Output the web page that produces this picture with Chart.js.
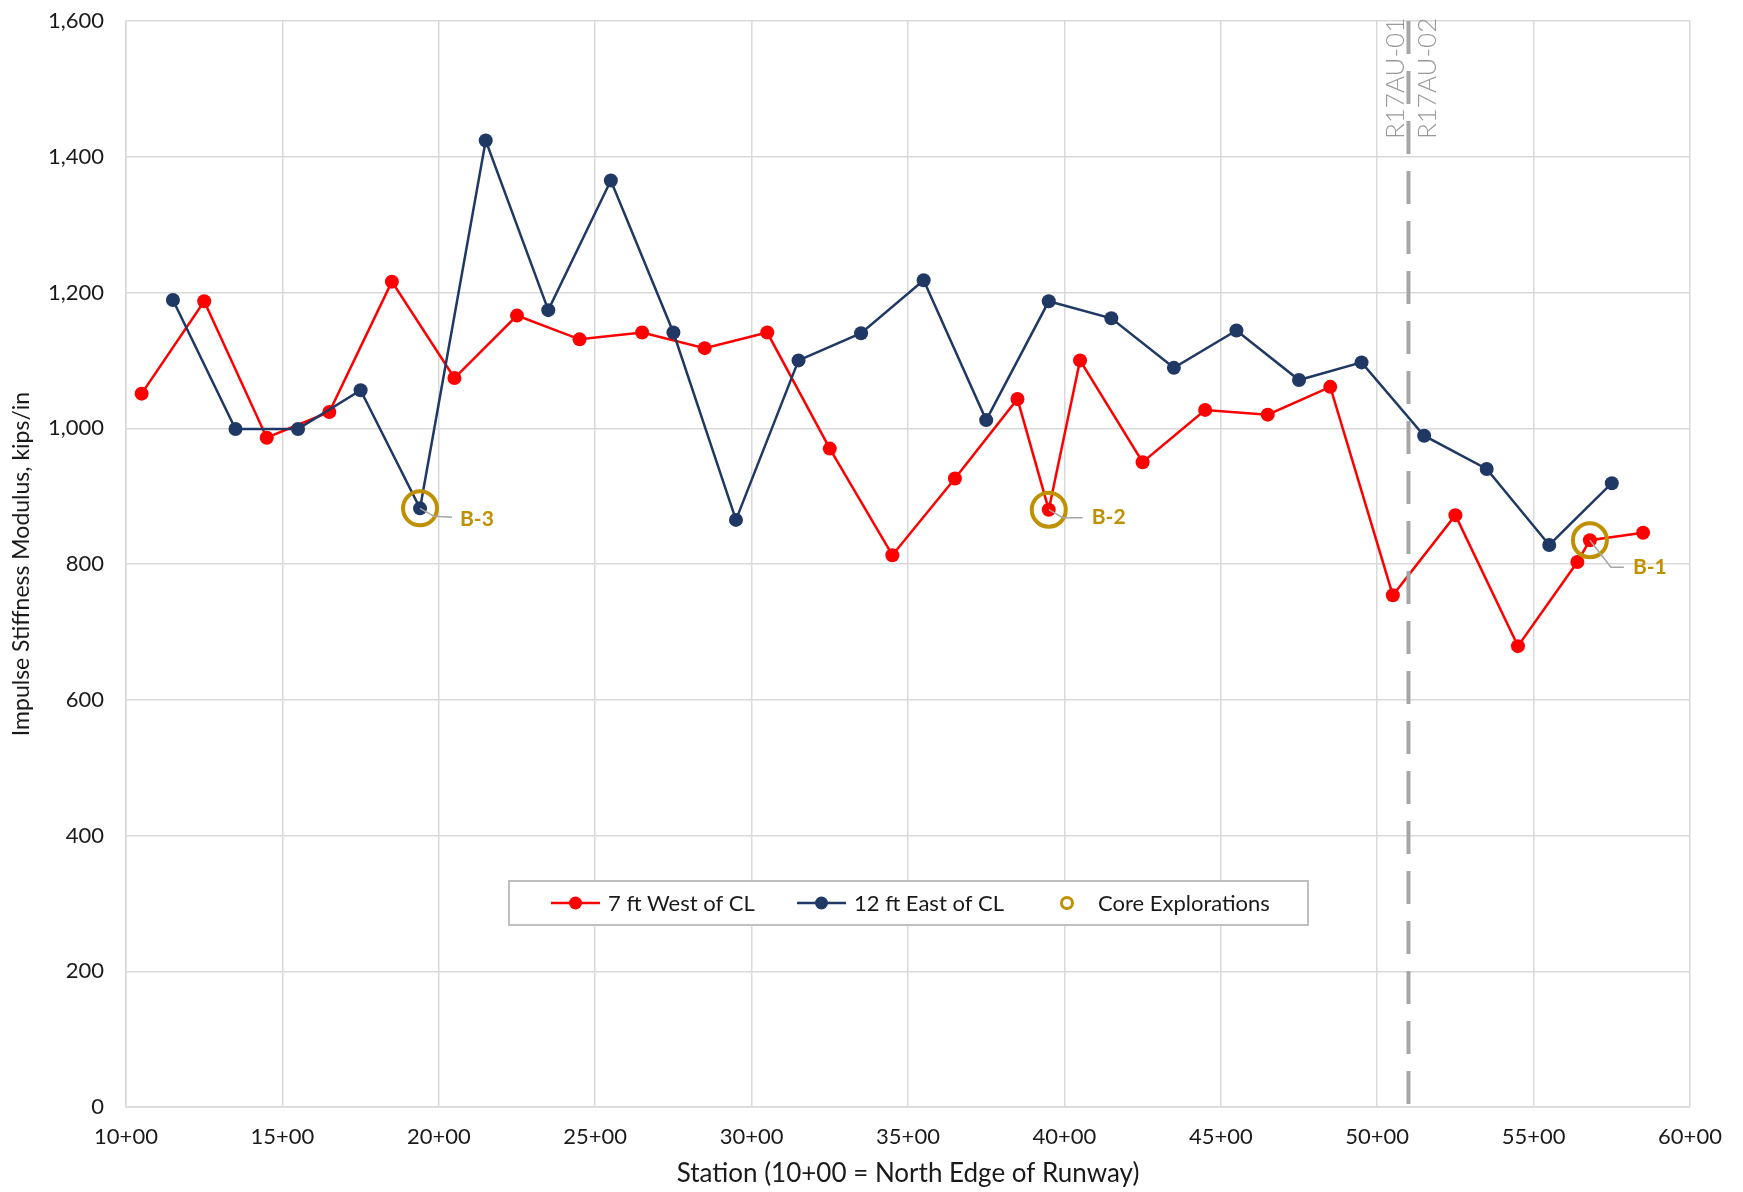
<!DOCTYPE html>
<html>
<head>
<meta charset="utf-8">
<script src="https://cdn.jsdelivr.net/npm/chart.js@4.4.1/dist/chart.umd.min.js"></script>
<style>
  html, body { margin: 0; padding: 0; background: #fff; }
  #wrap { width: 1743px; height: 1192px; }
</style>
</head>
<body>
<div id="wrap"><canvas id="chart" width="1743" height="1192"></canvas></div>
<script>
const FONT = "Lato, 'Open Sans', sans-serif";

// stations in feet (1000 = 10+00), modulus in kips/in
const westStations = [1050, 1250, 1450, 1650, 1850, 2050, 2250, 2450, 2650, 2850, 3050, 3250, 3450, 3650, 3850, 3950, 4050, 4250, 4450, 4650, 4850, 5050, 5250, 5450, 5640, 5680, 5850];
const westValues = [1051, 1187, 986, 1024, 1216, 1074, 1166, 1131, 1141, 1118, 1141, 970, 813, 926, 1043, 880, 1100, 950, 1027, 1020, 1061, 754, 872, 679, 803, 835, 846];

const eastStations = [1150, 1350, 1550, 1750, 1940, 2150, 2350, 2550, 2750, 2950, 3150, 3350, 3550, 3750, 3950, 4150, 4350, 4550, 4750, 4950, 5150, 5350, 5550, 5750];
const eastValues = [1189, 999, 999, 1056, 882, 1424, 1174, 1365, 1141, 865, 1100, 1140, 1218, 1012, 1187, 1162, 1089, 1144, 1071, 1097, 989, 940, 828, 919];

const coreStations = [1940, 3950, 5680];
const coreValues = [882, 880, 835];
const coreLabels = ["B-3", "B-2", "B-1"];

const dividerStation = 5100;
const dividerLabels = ["R17AU-01", "R17AU-02"];

const xTicks = [1000, 1500, 2000, 2500, 3000, 3500, 4000, 4500, 5000, 5500, 6000];
const xTickLabels = ["10+00", "15+00", "20+00", "25+00", "30+00", "35+00", "40+00", "45+00", "50+00", "55+00", "60+00"];
const yTicks = [0, 200, 400, 600, 800, 1000, 1200, 1400, 1600];
const yTickLabels = ["0", "200", "400", "600", "800", "1,000", "1,200", "1,400", "1,600"];

const RED = "#FF0000";
const NAVY = "#1F3864";
const GOLD = "#BF9000";
const GRID = "#D9D9D9";

// leader line bends and label offsets (px) for each core label
const coreLeaders = [
  [[14, 8], [32, 9], [40, 11]],
  [[14, 8], [34, 8], [43, 8]],
  [[21, 27], [34, 27], [43, 27]]
];

const toPoints = (xs, ys) => xs.map((x, i) => ({ x: x, y: ys[i] }));

const overlay = {
  id: "overlay",
  afterDatasetsDraw(chart) {
    const { ctx, chartArea, scales } = chart;
    const x = scales.x, y = scales.y;

    // section divider
    const dx = x.getPixelForValue(dividerStation);
    ctx.save();
    ctx.strokeStyle = "#A6A6A6";
    ctx.lineWidth = 4;
    ctx.setLineDash([33, 17]);
    ctx.beginPath();
    ctx.moveTo(dx, chartArea.top);
    ctx.lineTo(dx, chartArea.bottom);
    ctx.stroke();
    ctx.restore();

    ctx.save();
    ctx.fillStyle = "#999999";
    ctx.font = "300 26px " + FONT;
    ctx.textAlign = "left";
    ctx.textBaseline = "alphabetic";
    [[dx - 4, dividerLabels[0]], [dx + 28, dividerLabels[1]]].forEach(([px, txt]) => {
      ctx.save();
      ctx.translate(px, 139);
      ctx.rotate(-Math.PI / 2);
      ctx.fillText(txt, 0, 0);
      ctx.restore();
    });
    ctx.restore();

    // core labels
    ctx.save();
    coreStations.forEach((s, i) => {
      const px = x.getPixelForValue(s);
      const py = y.getPixelForValue(coreValues[i]);
      const l = coreLeaders[i];
      ctx.strokeStyle = "#A6A6A6";
      ctx.lineWidth = 1.5;
      ctx.beginPath();
      ctx.moveTo(px, py);
      ctx.lineTo(px + l[0][0], py + l[0][1]);
      ctx.lineTo(px + l[1][0], py + l[1][1]);
      ctx.stroke();
      ctx.fillStyle = GOLD;
      ctx.font = "bold 21px " + FONT;
      ctx.textAlign = "left";
      ctx.textBaseline = "middle";
      ctx.fillText(coreLabels[i], px + l[2][0], py + l[2][1]);
    });
    ctx.restore();
  },
  afterDraw(chart) {
    const ctx = chart.ctx;
    const bx = 509, by = 881, bw = 799, bh = 44;
    const cy = by + bh / 2;
    ctx.save();
    ctx.fillStyle = "#fff";
    ctx.fillRect(bx, by, bw, bh);
    ctx.strokeStyle = "#BFBFBF";
    ctx.lineWidth = 2;
    ctx.strokeRect(bx, by, bw, bh);

    ctx.font = "22px " + FONT;
    ctx.fillStyle = "#1a1a1a";
    ctx.textAlign = "left";
    ctx.textBaseline = "middle";

    const lineEntry = (x0, color, text) => {
      ctx.strokeStyle = color;
      ctx.lineWidth = 2.5;
      ctx.beginPath();
      ctx.moveTo(bx + x0, cy);
      ctx.lineTo(bx + x0 + 49, cy);
      ctx.stroke();
      ctx.fillStyle = color;
      ctx.beginPath();
      ctx.arc(bx + x0 + 24.5, cy, 6.5, 0, Math.PI * 2);
      ctx.fill();
      ctx.fillStyle = "#1a1a1a";
      ctx.fillText(text, bx + x0 + 57, cy + 1);
    };
    lineEntry(42, RED, chart.data.datasets[0].label);
    lineEntry(288, NAVY, chart.data.datasets[1].label);

    ctx.strokeStyle = GOLD;
    ctx.lineWidth = 3;
    ctx.beginPath();
    ctx.arc(bx + 558, cy, 5.5, 0, Math.PI * 2);
    ctx.stroke();
    ctx.fillStyle = "#1a1a1a";
    ctx.fillText(chart.data.datasets[2].label, bx + 589, cy + 1);
    ctx.restore();
  }
};

new Chart(document.getElementById("chart"), {
  type: "line",
  data: {
    datasets: [
      {
        label: "7 ft West of CL",
        data: toPoints(westStations, westValues),
        borderColor: RED,
        backgroundColor: RED,
        borderWidth: 2.5,
        pointRadius: 7,
        pointHoverRadius: 7,
        pointBorderWidth: 0,
        tension: 0,
        order: 3
      },
      {
        label: "12 ft East of CL",
        data: toPoints(eastStations, eastValues),
        borderColor: NAVY,
        backgroundColor: NAVY,
        borderWidth: 2.5,
        pointRadius: 7,
        pointHoverRadius: 7,
        pointBorderWidth: 0,
        tension: 0,
        order: 2
      },
      {
        label: "Core Explorations",
        data: toPoints(coreStations, coreValues),
        showLine: false,
        borderColor: GOLD,
        backgroundColor: "rgba(0,0,0,0)",
        pointRadius: 17,
        pointHoverRadius: 17,
        pointBorderWidth: 4,
        order: 1
      }
    ]
  },
  options: {
    responsive: false,
    animation: false,
    layout: { padding: { left: 0, top: 18, right: 53, bottom: 0 } },
    plugins: {
      legend: { display: false },
      tooltip: { enabled: false }
    },
    scales: {
      x: {
        type: "linear",
        min: 1000,
        max: 6000,
        afterBuildTicks: (s) => { s.ticks = xTicks.map((v) => ({ value: v })); },
        afterFit: (s) => { s.height = 85; },
        ticks: {
          callback: (v, i) => xTickLabels[i],
          font: { family: FONT, size: 22 },
          color: "#1a1a1a",
          padding: 17,
          maxRotation: 0,
          autoSkip: false
        },
        grid: { color: GRID, lineWidth: 1.5, drawTicks: false },
        border: { color: GRID, width: 1.5 },
        title: {
          display: true,
          text: "Station (10+00 = North Edge of Runway)",
          font: { family: FONT, size: 26 },
          color: "#1a1a1a",
          padding: { top: 0, bottom: 3 }
        }
      },
      y: {
        min: 0,
        max: 1600,
        afterBuildTicks: (s) => { s.ticks = yTicks.map((v) => ({ value: v })); },
        afterFit: (s) => { s.width = 126; s.paddingTop = 0; s.paddingBottom = 0; },
        ticks: {
          callback: (v, i) => yTickLabels[i],
          font: { family: FONT, size: 22 },
          color: "#1a1a1a",
          padding: 22
        },
        grid: { color: GRID, lineWidth: 1.5, drawTicks: false },
        border: { color: GRID, width: 1.5 },
        title: {
          display: true,
          text: "Impulse Stiffness Modulus, kips/in",
          font: { family: FONT, size: 23 },
          color: "#1a1a1a",
          padding: { top: 8, bottom: 0 }
        }
      }
    }
  },
  plugins: [overlay]
});
</script>
</body>
</html>
